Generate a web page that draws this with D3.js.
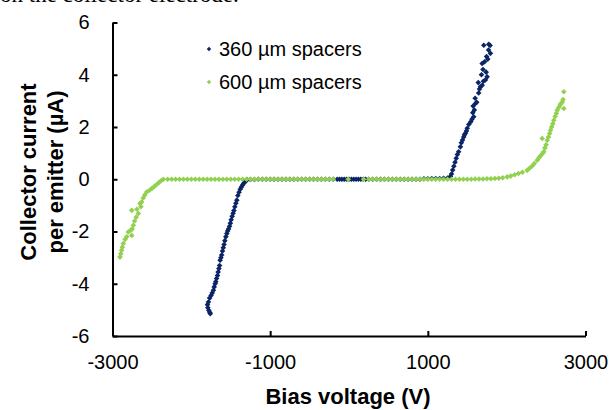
<!DOCTYPE html>
<html>
<head>
<meta charset="utf-8">
<script src="https://cdn.jsdelivr.net/npm/d3@7"></script>
<style>
  body { margin: 0; background: #fff; }
  svg { display: block; font-family: "Liberation Sans", Arial, sans-serif; }
  .axis path, .axis line { stroke: #000; stroke-width: 2; }
  .axis text { font-size: 20px; fill: #000; }
</style>
</head>
<body>
<svg width="610" height="410"></svg>
<script>

// x ticks (V) and y ticks (uA)
var xTicks = [ -3000, -1000, 1000, 3000 ];
var yTicks = [ -6, -4, -2, 0, 2, 4, 6 ];

var seriesNames = [ "360 \u00b5m spacers", "600 \u00b5m spacers" ];
var seriesColors = [ "#0b2466", "#92d050" ];

// 360 um spacers: [bias voltage, collector current per emitter]
var spacers360 = [
  [ -1760, -5.15 ], [ -1765, -5.1 ], [ -1778, -5.02 ], [ -1790, -4.92 ], [ -1795, -4.8 ],
  [ -1783, -4.7 ], [ -1768, -4.55 ], [ -1750, -4.45 ], [ -1735, -4.35 ], [ -1720, -4.25 ],
  [ -1710, -4.12 ], [ -1698, -4.0 ], [ -1690, -3.92 ], [ -1680, -3.8 ], [ -1668, -3.68 ],
  [ -1660, -3.55 ], [ -1650, -3.42 ], [ -1642, -3.3 ], [ -1635, -3.1 ], [ -1625, -3.0 ],
  [ -1615, -2.9 ], [ -1605, -2.75 ], [ -1595, -2.62 ], [ -1585, -2.5 ], [ -1575, -2.35 ],
  [ -1562, -2.2 ], [ -1550, -2.08 ], [ -1540, -1.98 ], [ -1528, -1.9 ], [ -1515, -1.8 ],
  [ -1505, -1.68 ], [ -1495, -1.55 ], [ -1482, -1.42 ], [ -1470, -1.3 ], [ -1460, -1.2 ],
  [ -1448, -1.05 ], [ -1435, -0.92 ], [ -1423, -0.8 ], [ -1410, -0.62 ], [ -1395, -0.5 ],
  [ -1380, -0.38 ], [ -1365, -0.3 ], [ -1350, -0.22 ], [ -1335, -0.15 ], [ -1320, -0.1 ],
  [ -1305, -0.05 ], [ -1290, -0.02 ],
  [ -1250, -0.01 ], [ -1200, -0.01 ], [ -1150, 0 ], [ -1100, 0 ], [ -1050, 0 ], [ -1000, 0 ],
  [ -950, 0 ], [ -900, 0 ], [ -850, 0 ], [ -800, 0 ], [ -750, 0 ], [ -700, 0 ], [ -650, 0 ],
  [ -600, 0 ], [ -550, 0 ], [ -500, 0 ], [ -450, 0 ], [ -400, 0 ], [ -350, 0 ], [ -300, 0 ],
  [ -250, 0 ], [ -200, 0 ], [ -150, 0 ], [ -120, 0 ], [ -90, 0 ], [ -60, 0 ], [ -30, 0 ],
  [ 0, 0 ], [ 30, 0 ], [ 60, 0 ], [ 90, 0 ], [ 120, 0 ], [ 150, 0 ], [ 180, 0 ], [ 210, 0 ],
  [ 250, 0 ], [ 300, 0 ], [ 350, 0 ], [ 400, 0 ], [ 450, 0 ], [ 500, 0 ], [ 550, 0 ],
  [ 600, 0 ], [ 650, 0 ], [ 700, 0 ], [ 750, 0 ], [ 800, 0 ], [ 850, 0 ], [ 900, 0 ],
  [ 950, 0.02 ], [ 1000, 0.02 ], [ 1050, 0.03 ], [ 1100, 0.03 ], [ 1150, 0.03 ], [ 1200, 0.04 ],
  [ 1250, 0.05 ], [ 1286, 0.11 ], [ 1300, 0.2 ], [ 1315, 0.35 ], [ 1330, 0.5 ], [ 1345, 0.65 ],
  [ 1360, 0.8 ], [ 1375, 0.95 ], [ 1390, 1.05 ], [ 1413, 1.24 ], [ 1425, 1.4 ], [ 1440, 1.5 ],
  [ 1455, 1.62 ], [ 1465, 1.7 ], [ 1477, 1.76 ], [ 1490, 1.85 ], [ 1500, 1.95 ], [ 1520, 2.1 ],
  [ 1545, 2.2 ], [ 1560, 2.3 ], [ 1582, 2.39 ], [ 1570, 2.55 ], [ 1590, 2.65 ], [ 1575, 2.8 ],
  [ 1604, 2.9 ], [ 1620, 2.95 ], [ 1600, 3.1 ], [ 1645, 3.3 ], [ 1655, 3.45 ], [ 1667, 3.54 ],
  [ 1690, 3.6 ], [ 1640, 3.7 ], [ 1705, 3.75 ], [ 1730, 3.8 ], [ 1752, 3.92 ], [ 1680, 4.0 ],
  [ 1740, 4.1 ], [ 1700, 4.2 ], [ 1689, 4.43 ], [ 1720, 4.5 ], [ 1760, 4.6 ], [ 1745, 4.7 ],
  [ 1794, 4.82 ], [ 1770, 4.95 ], [ 1790, 5.12 ], [ 1710, 5.13 ], [ 1773, 5.17 ]
];

// 600 um spacers: [bias voltage, collector current per emitter]
var spacers600 = [
  [ -2905, -2.98 ], [ -2895, -2.85 ], [ -2885, -2.72 ], [ -2875, -2.6 ], [ -2863, -2.46 ],
  [ -2840, -2.3 ], [ -2820, -2.2 ], [ -2756, -2.15 ], [ -2800, -2.02 ], [ -2770, -1.95 ],
  [ -2750, -1.9 ], [ -2736, -1.76 ], [ -2720, -1.6 ], [ -2700, -1.45 ], [ -2672, -1.31 ],
  [ -2756, -1.19 ], [ -2690, -1.15 ], [ -2640, -1.05 ], [ -2651, -0.93 ], [ -2630, -0.87 ],
  [ -2610, -0.72 ], [ -2590, -0.6 ], [ -2566, -0.49 ], [ -2530, -0.42 ], [ -2500, -0.35 ],
  [ -2470, -0.28 ], [ -2440, -0.2 ], [ -2410, -0.12 ], [ -2380, -0.05 ], [ -2355, 0 ],
  [ -2300, 0 ], [ -2250, 0 ], [ -2200, 0 ], [ -2150, 0 ], [ -2100, 0 ], [ -2050, 0 ],
  [ -2000, 0 ], [ -1950, 0 ], [ -1900, 0 ], [ -1850, 0 ], [ -1800, 0 ], [ -1750, 0 ],
  [ -1700, 0 ], [ -1650, 0 ], [ -1600, 0 ], [ -1550, 0 ], [ -1500, 0 ], [ -1450, 0 ],
  [ -1400, 0 ], [ -1350, 0 ], [ -1300, 0 ], [ -1250, 0 ], [ -1200, 0 ], [ -1150, 0 ],
  [ -1100, 0 ], [ -1050, 0 ], [ -1000, 0 ], [ -950, 0 ], [ -900, 0 ], [ -850, 0 ],
  [ -800, 0 ], [ -750, 0 ], [ -700, 0 ], [ -650, 0 ], [ -600, 0 ], [ -550, 0 ],
  [ -500, 0 ], [ -450, 0 ], [ -400, 0 ], [ -350, 0 ], [ -300, 0 ], [ -250, 0 ],
  [ -200, 0 ], [ -10, 0 ], [ 185, 0 ], [ 250, 0 ], [ 300, 0 ], [ 350, 0 ], [ 400, 0 ],
  [ 450, 0 ], [ 500, 0 ], [ 550, 0 ], [ 600, 0 ], [ 650, 0 ], [ 700, 0 ], [ 750, 0 ],
  [ 800, 0 ], [ 850, 0 ], [ 900, 0 ], [ 950, 0 ], [ 1000, 0 ], [ 1050, 0 ], [ 1100, 0 ],
  [ 1150, 0 ], [ 1200, 0 ], [ 1250, 0 ], [ 1300, 0 ], [ 1350, 0 ], [ 1400, 0 ], [ 1450, 0 ],
  [ 1500, 0 ], [ 1550, 0 ], [ 1600, 0.01 ], [ 1650, 0.01 ], [ 1700, 0.01 ], [ 1750, 0.02 ],
  [ 1800, 0.02 ], [ 1850, 0.03 ], [ 1900, 0.04 ], [ 1950, 0.06 ],
  [ 2006, 0.09 ], [ 2050, 0.12 ], [ 2100, 0.17 ], [ 2150, 0.22 ], [ 2200, 0.27 ], [ 2260, 0.34 ],
  [ 2290, 0.42 ], [ 2320, 0.5 ], [ 2350, 0.6 ], [ 2387, 0.73 ], [ 2410, 0.82 ], [ 2430, 0.9 ],
  [ 2450, 0.97 ], [ 2471, 1.05 ], [ 2485, 1.2 ], [ 2500, 1.32 ], [ 2514, 1.49 ], [ 2451, 1.56 ],
  [ 2530, 1.62 ], [ 2545, 1.75 ], [ 2556, 1.88 ], [ 2570, 2.0 ], [ 2585, 2.12 ], [ 2598, 2.26 ],
  [ 2615, 2.4 ], [ 2630, 2.52 ], [ 2641, 2.64 ], [ 2725, 2.71 ], [ 2660, 2.75 ], [ 2680, 2.85 ],
  [ 2690, 2.9 ], [ 2705, 2.96 ], [ 2715, 3.05 ], [ 2725, 3.35 ]
];

var svg = d3.select( "svg" );

var xScale = d3.scaleLinear()
  .domain( [ -3000, 3000 ] )
  .range( [ 112.5, 585.5 ] );

var yScale = d3.scaleLinear()
  .domain( [ -6, 6 ] )
  .range( [ 336, 22.5 ] );

// cropped caption line of the source page (only its lower edge shows)
svg.append( "text" )
  .attr( "x", 0 )
  .attr( "y", 1.5 )
  .style( "font-family", "'Liberation Serif', 'Times New Roman', serif" )
  .style( "font-size", "23px" )
  .text( "on the collector electrode." );

// axes
svg.append( "g" )
  .attr( "class", "y axis" )
  .attr( "transform", "translate(" + 112.5 + ",0)" )
  .call( d3.axisLeft( yScale ).tickValues( yTicks ).tickSizeInner( -5 ).tickSizeOuter( 0 )
    .tickPadding( 23 ).tickFormat( d => String( d ) ) );

svg.append( "g" )
  .attr( "class", "x axis" )
  .attr( "transform", "translate(0," + 336 + ")" )
  .call( d3.axisBottom( xScale ).tickValues( xTicks ).tickSizeInner( -5 ).tickSizeOuter( 0 )
    .tickPadding( 19 ).tickFormat( d => String( d ) ) );

// markers
var diamond = r => "M0," + ( -r ) + "L" + r + ",0L0," + r + "L" + ( -r ) + ",0Z";

[ spacers360, spacers600 ].forEach( ( series, k ) => {
  svg.append( "g" )
    .selectAll( "path" )
    .data( series )
    .enter().append( "path" )
      .attr( "d", diamond( 2.8 ) )
      .attr( "transform", d => "translate(" + xScale( d[ 0 ] ) + "," + yScale( d[ 1 ] ) + ")" )
      .attr( "fill", seriesColors[ k ] );
} );

// legend
var legend = svg.append( "g" )
  .selectAll( "g" )
  .data( seriesNames )
  .enter().append( "g" )
    .attr( "transform", ( d, i ) => "translate(209," + ( 49 + i * 33 ) + ")" );

legend.append( "path" )
  .attr( "d", diamond( 2.2 ) )
  .attr( "fill", ( d, i ) => seriesColors[ i ] );

legend.append( "text" )
  .attr( "x", 10 )
  .attr( "y", 7 )
  .style( "font-size", "20px" )
  .text( d => d );

// axis titles
svg.append( "text" )
  .attr( "x", 348 )
  .attr( "y", 404 )
  .attr( "text-anchor", "middle" )
  .style( "font-size", "22px" )
  .style( "font-weight", "bold" )
  .text( "Bias voltage (V)" );

var yTitle = svg.append( "text" )
  .attr( "transform", "translate(0,172) rotate(-90)" )
  .attr( "text-anchor", "middle" )
  .style( "font-size", "22px" )
  .style( "font-weight", "bold" );

yTitle.append( "tspan" ).attr( "x", 0 ).attr( "y", 36 ).text( "Collector current" );
yTitle.append( "tspan" ).attr( "x", 0 ).attr( "y", 63 ).text( "per emitter (\u00b5A)" );

</script>
</body>
</html>
